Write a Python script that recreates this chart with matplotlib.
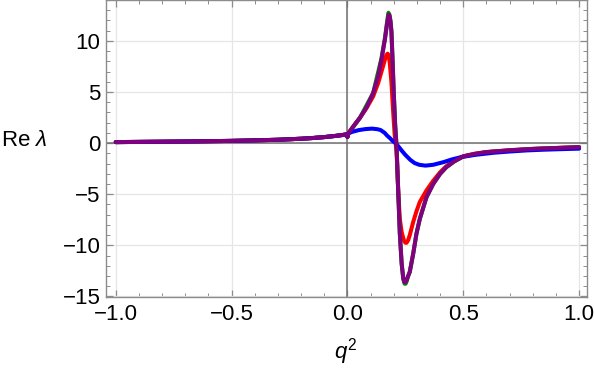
import matplotlib
matplotlib.use("Agg")
import matplotlib.pyplot as plt
from matplotlib.ticker import MultipleLocator

plt.rcParams["font.family"] = "Liberation Sans"
plt.rcParams["mathtext.fontset"] = "custom"
plt.rcParams["mathtext.rm"] = "Liberation Sans"
plt.rcParams["mathtext.it"] = "Liberation Sans:italic"

# shared left branch (all curves coincide for q^2 < 0)
x_left = [-1.0, -0.9, -0.8, -0.7, -0.6, -0.5, -0.4, -0.3, -0.2, -0.15, -0.1,
          -0.05, -0.02, -0.003, 0.0]
y_left = [0.10, 0.12, 0.14, 0.16, 0.19, 0.22, 0.27, 0.33, 0.43, 0.50, 0.59,
          0.71, 0.80, 0.86, 0.60]

# purple
x_purple = [0.004, 0.025, 0.054, 0.083, 0.111, 0.133, 0.147, 0.162, 0.172,
            0.178, 0.182, 0.186, 0.190, 0.195, 0.200, 0.206, 0.212, 0.219,
            0.226, 0.234, 0.241, 0.246, 0.250, 0.255, 0.262, 0.269, 0.284,
            0.298, 0.3125, 0.341, 0.37, 0.40, 0.427, 0.46, 0.50, 0.55, 0.60,
            0.70, 0.80, 0.90, 1.0]
y_purple = [0.95, 1.62, 2.48, 3.51, 4.90, 6.54, 8.18, 10.15, 11.8,
            12.55, 12.45, 11.9, 10.9, 8.0, 4.9, 1.8, -0.3, -4.6,
            -8.8, -11.75, -13.2, -13.6, -13.6, -13.4, -13.0, -12.6, -10.8,
            -8.85, -7.4, -5.3, -4.0, -3.0, -2.35, -1.8, -1.3, -1.05, -0.88,
            -0.70, -0.57, -0.48, -0.40]

# red
x_red = [0.004, 0.025, 0.054, 0.083, 0.111, 0.133, 0.147, 0.162, 0.168,
         0.1735, 0.178, 0.183, 0.190, 0.197, 0.204, 0.212, 0.219, 0.226,
         0.234, 0.2435, 0.250, 0.255, 0.262, 0.269, 0.284, 0.298, 0.3125,
         0.341, 0.37, 0.40, 0.427, 0.46, 0.50, 0.55, 0.60, 0.70, 0.80, 0.90,
         1.0]
y_red = [0.95, 1.62, 2.48, 3.45, 4.57, 5.9, 7.0, 8.18, 8.6,
         8.75, 8.6, 7.8, 5.9, 3.2, 0.76, -0.8, -4.5, -7.4,
         -8.7, -9.5, -9.74, -9.75, -9.5, -9.0, -7.7, -6.66, -5.75,
         -4.63, -3.69, -2.85, -2.25, -1.75, -1.28, -1.03, -0.87, -0.69,
         -0.56, -0.47, -0.39]

# green (nearly under purple)
x_green = [0.004, 0.054, 0.111, 0.147, 0.162, 0.172, 0.177, 0.181, 0.186,
           0.190, 0.195, 0.200, 0.206, 0.212, 0.219, 0.226, 0.234, 0.241,
           0.247, 0.251, 0.256, 0.262, 0.269, 0.284, 0.298, 0.3125, 0.341,
           0.37, 0.40, 0.427, 0.46, 0.50, 0.60, 0.80, 1.0]
y_green = [0.95, 2.48, 4.90, 8.3, 10.3, 12.0, 12.75, 12.6, 11.9,
           10.9, 8.0, 4.9, 1.8, -0.3, -4.6, -8.8, -11.8, -13.3,
           -13.75, -13.75, -13.5, -13.0, -12.6, -10.8, -8.85, -7.4, -5.3,
           -4.0, -3.0, -2.35, -1.8, -1.3, -0.88, -0.57, -0.40]

# blue
x_blue = [0.004, 0.02, 0.05, 0.08, 0.107, 0.13, 0.143, 0.16, 0.172, 0.183,
          0.195, 0.208, 0.22, 0.235, 0.25, 0.272, 0.29, 0.31, 0.337, 0.37,
          0.416, 0.45, 0.488, 0.55, 0.631, 0.70, 0.775, 0.85, 0.92, 1.0]
y_blue = [0.95, 1.1, 1.28, 1.38, 1.42, 1.36, 1.28, 1.02, 0.72, 0.50,
          0.22, 0.0, -0.32, -0.75, -1.15, -1.65, -1.95, -2.12, -2.2, -2.12,
          -1.85, -1.6, -1.38, -1.15, -0.94, -0.82, -0.71, -0.64, -0.59, -0.54]

x_ticks = [-1.0, -0.5, 0.0, 0.5, 1.0]
y_ticks = [-15, -10, -5, 0, 5, 10]

fig = plt.figure(figsize=(5.94, 3.68), dpi=100)
ax = fig.add_axes([106 / 594, 1 - 297 / 368, (587 - 106) / 594, 297 / 368])

ax.grid(True, color="#e6e6e6", lw=0.9)
ax.axhline(0, color="#707070", lw=1.1, zorder=2)
ax.axvline(0, color="#707070", lw=1.1, zorder=2)

lw = 2.9
for xs, ys, c in [(x_red, y_red, "#ff0000"), (x_green, y_green, "#008000"),
                  (x_blue, y_blue, "#0000ff"),
                  (x_purple, y_purple, "#800080")]:
    ax.plot(x_left + xs, y_left + ys, color=c, lw=lw, zorder=3,
            solid_joinstyle="round", solid_capstyle="round")

ax.set_xlim(-1.042, 1.034)
ax.set_ylim(-15.05, 14.0)
ax.set_xticks(x_ticks)
ax.set_yticks(y_ticks)
ax.set_xticklabels([f"{t:.1f}".replace("-", "\u2212") for t in x_ticks])
ax.set_yticklabels([str(t).replace("-", "\u2212") for t in y_ticks])
ax.xaxis.set_minor_locator(MultipleLocator(0.1))
ax.yaxis.set_minor_locator(MultipleLocator(1))
ax.tick_params(which="both", direction="in", top=True, right=True,
               color="#8c8c8c", labelsize=16, labelcolor="black")
ax.tick_params(axis="x", which="both", pad=5)
ax.tick_params(axis="y", which="both", pad=4)
ax.tick_params(which="major", length=5, width=0.9)
ax.tick_params(which="minor", length=2.8, width=0.7)
for s in ax.spines.values():
    s.set_color("#8c8c8c")
    s.set_linewidth(1.0)

fig.text(346 / 594, 1 - 352 / 368, r"$q^2$", fontsize=16, ha="center",
         va="center")
fig.text(0.002, 1 - 141 / 368, r"Re $\lambda$", fontsize=16, ha="left",
         va="center")

fig.savefig("out.png", dpi=100)
